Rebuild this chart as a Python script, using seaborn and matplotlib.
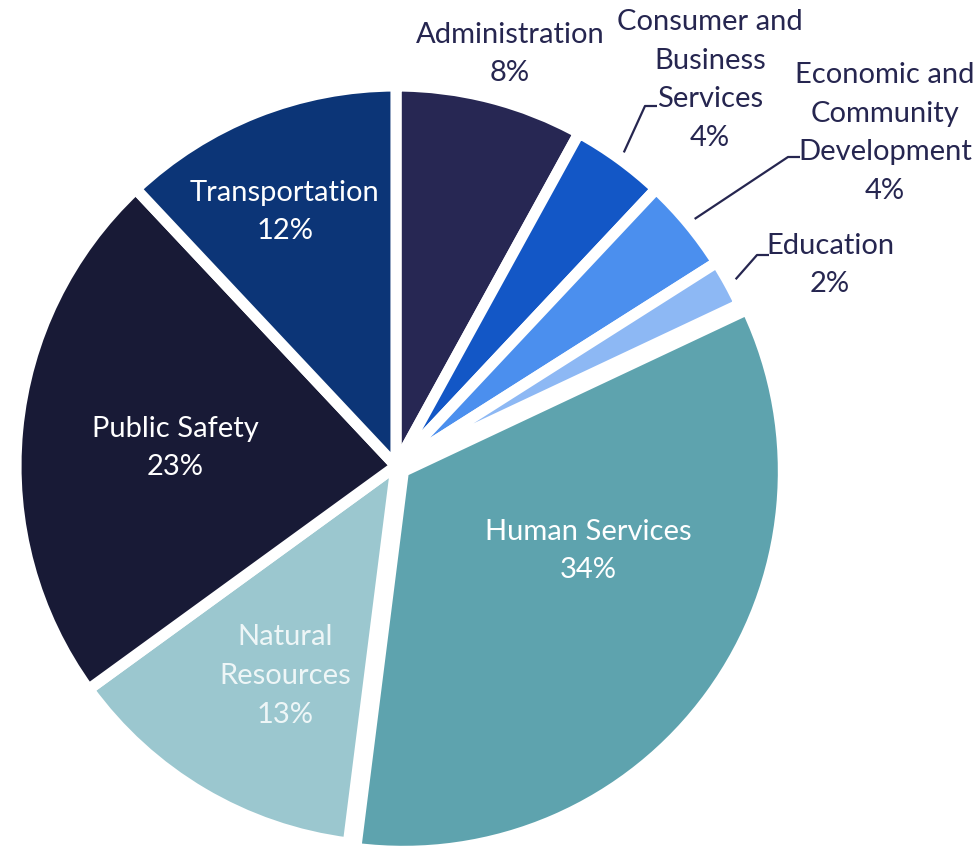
import numpy as np
import matplotlib
matplotlib.use("Agg")
import matplotlib.pyplot as plt
import seaborn as sns

# Budget share by department (percent), clockwise from 12 o'clock
departments = [
    "Administration",
    "Consumer and\nBusiness\nServices",
    "Economic and\nCommunity\nDevelopment",
    "Education",
    "Human Services",
    "Natural\nResources",
    "Public Safety",
    "Transportation",
]
shares = [8, 4, 4, 2, 34, 13, 23, 12]
colors = ["#272753", "#1357c6", "#4b8fee", "#8db8f4",
          "#5ea3ae", "#9bc7cf", "#181a36", "#0c3577"]
label_colors = ["#262650", "#262650", "#262650", "#262650",
                "#ffffff", "#eef6f7", "#ffffff", "#ffffff"]

sns.set_theme(style="white")
plt.rcParams["font.family"] = ["Lato", "DejaVu Sans"]

fig = plt.figure(figsize=(9.79, 8.5), dpi=100)
W, H = 979, 850
cx, cy, R = 396, 466, 380
ax = fig.add_axes([(cx - R) / W, (H - cy - R) / H, 2 * R / W, 2 * R / H])

explode = [0, 0, 0, 0, 0.024, 0, 0, 0]
wedges, _ = ax.pie(
    shares, colors=colors, startangle=90, counterclock=False,
    explode=explode, radius=1.0,
    wedgeprops=dict(edgecolor="white", linewidth=8, joinstyle="miter"),
)
ax.set_xlim(-1, 1)
ax.set_ylim(-1, 1)
ax.set_aspect("equal")
ax.axis("off")


def to_data(px, py):
    """Convert a figure pixel position (from top-left) to pie data units."""
    return (px - cx) / R, (cy - py) / R


# label centres, given in figure pixels
label_px = [
    (510, 54),
    (710, 80),
    (885, 133),
    (830, 265),
    (588, 551),
    (285, 676),
    (175, 448),
    (285, 212),
]

for name, val, (px, py), c in zip(departments, shares, label_px, label_colors):
    x, y = to_data(px, py)
    ax.text(x, y, f"{name}\n{val}%", ha="center", va="center",
            fontsize=21, color=c, linespacing=1.6)

# leader lines for the narrow slices: rim -> elbow -> short horizontal run
elbows_px = {1: (645, 106), 2: (788, 157), 3: (757, 255)}
for i, (epx, epy) in elbows_px.items():
    w = wedges[i]
    mid = np.deg2rad((w.theta1 + w.theta2) / 2)
    sx, sy = 1.02 * np.cos(mid), 1.02 * np.sin(mid)
    ex, ey = to_data(epx, epy)
    ax.plot([sx, ex, ex + 12 / R], [sy, ey, ey], color="#262650",
            lw=1.6, solid_capstyle="butt", clip_on=False)

fig.savefig("out.png", dpi=100, facecolor="white")
